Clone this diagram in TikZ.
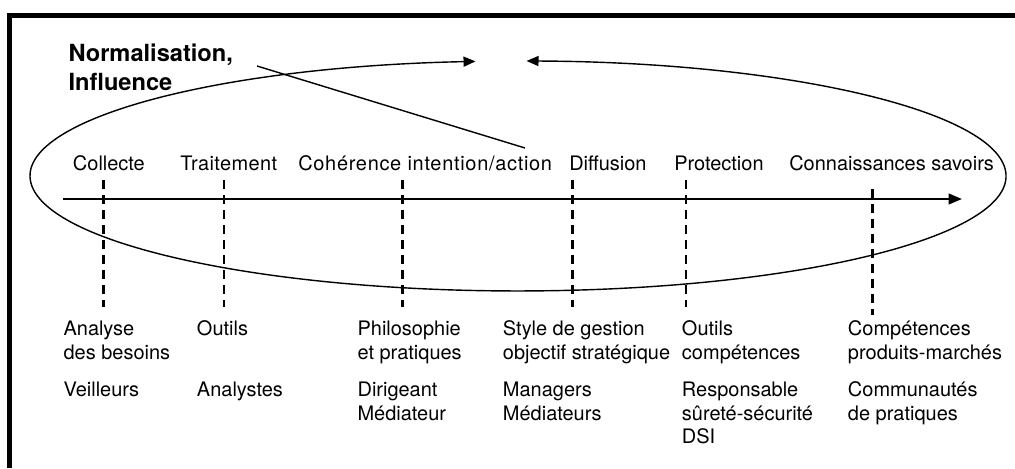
\documentclass[tikz,border=0pt]{standalone}
\usepackage{fontspec}
\setmainfont{TeX Gyre Heros}
\usetikzlibrary{arrows.meta}

\begin{document}
\begin{tikzpicture}[x=0.025cm, y=0.025cm,
    lbl/.style={inner sep=0pt, anchor=base west, align=left,
      font=\fontsize{14.2}{16.8}\selectfont},
    wide/.style={font=\fontsize{14.2}{16.8}\selectfont\addfontfeature{LetterSpace=#1}},
    guide/.style={line width=1.9pt, dash pattern=on 6.4pt off 4.3pt}]
    \useasboundingbox (0,0) rectangle (1015,468);
    \draw[line width=3.56pt] (9.8,0) -- (9.8,452.2) -- (1015,452.2);

    % multi-line nodes sit on the baseline of their last line
    \node[lbl, font=\bfseries\fontsize{16.8}{20.6}\selectfont] (norm) at (68.3,377.3)
      {Normalisation,\\Influence};
    \coordinate (n1) at (257,402);
    \coordinate (n2) at (525,320);
    \draw[line width=1pt] (n1) -- (n2);

    \draw[line width=1pt, >={Triangle[length=8.5pt, width=7.1pt]}, <->] (475.5,406.6)
      arc[start angle=95, end angle=449, x radius=488, y radius=115];

    \coordinate (ax0) at (63,269);
    \coordinate (ax1) at (962,269);
    \draw[line width=1.7pt, -{Triangle[length=9.5pt, width=7.5pt]}] (ax0) -- (ax1);

    \node[lbl] (col) at (72.7,297) {Collecte};
    \node[lbl, wide=2] (trt) at (180,297) {Traitement};
    \node[lbl, wide=3.5] (coh) at (298,297) {Cohérence intention/action};
    \node[lbl] (dif) at (569,297) {Diffusion};
    \node[lbl] (pro) at (674,297) {Protection};
    \node[lbl] (con) at (789,297) {Connaissances savoirs};

    \coordinate (g1a) at (103.3,288); \coordinate (g1b) at (103.3,161);
    \coordinate (g2a) at (224,288);   \coordinate (g2b) at (224,161);
    \coordinate (g3a) at (402.7,288); \coordinate (g3b) at (402.7,161);
    \coordinate (g4a) at (572.7,288); \coordinate (g4b) at (572.7,161);
    \coordinate (g5a) at (686,288);   \coordinate (g5b) at (686,161);
    \coordinate (g6a) at (872.3,279); \coordinate (g6b) at (872.3,153);
    \draw[guide] (g1a) -- (g1b);
    \draw[guide] (g2a) -- (g2b);
    \draw[guide] (g3a) -- (g3b);
    \draw[guide] (g4a) -- (g4b);
    \draw[guide] (g5a) -- (g5b);
    \draw[guide] (g6a) -- (g6b);

    \node[lbl] (col-a) at (63.3,108.7) {Analyse\\des besoins};
    \node[lbl] (trt-a) at (196.7,132.3) {Outils};
    \node[lbl] (coh-a) at (357.3,108.7) {Philosophie\\et pratiques};
    \node[lbl] (dif-a) at (502.7,108.7) {Style de gestion\\objectif stratégique};
    \node[lbl] (pro-a) at (681.7,108.7) {Outils\\compétences};
    \node[lbl] (con-a) at (847.7,108.7) {Compétences\\produits-marchés};

    \node[lbl] (col-r) at (63.3,71.3) {Veilleurs};
    \node[lbl] (trt-r) at (196.7,71.3) {Analystes};
    \node[lbl] (coh-r) at (357.3,47.7) {Dirigeant\\Médiateur};
    \node[lbl] (dif-r) at (502.7,47.7) {Managers\\Médiateurs};
    \node[lbl] (pro-r) at (681.7,24.1) {Responsable\\sûreté-sécurité\\DSI};
    \node[lbl] (con-r) at (847.7,47.7) {Communautés\\de pratiques};
\end{tikzpicture}
\end{document}
